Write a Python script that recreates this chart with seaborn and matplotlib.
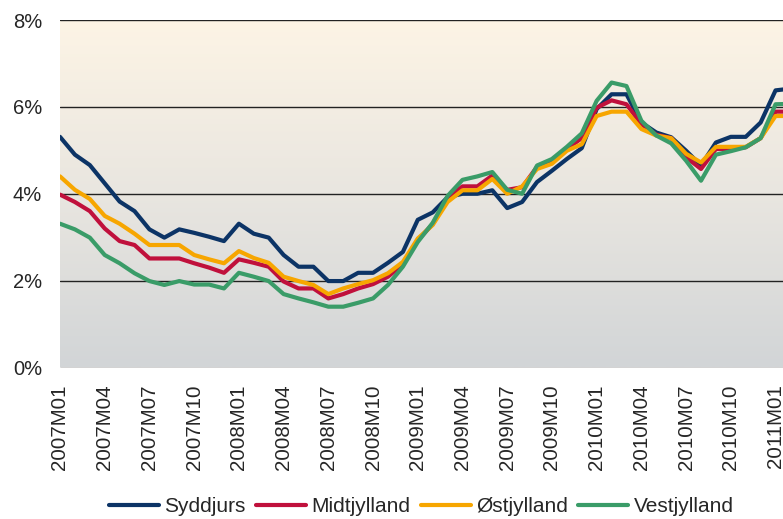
import numpy as np
import pandas as pd
import matplotlib
matplotlib.use("Agg")
import matplotlib.pyplot as plt
import seaborn as sns
from matplotlib.colors import LinearSegmentedColormap

regions = ["Syddjurs", "Midtjylland", "Østjylland", "Vestjylland"]

syddjurs = [5.31, 4.90, 4.66, 4.24, 3.82, 3.60, 3.18, 2.99, 3.18, 3.10, 3.01, 2.91,
            3.31, 3.08, 2.99, 2.59, 2.32, 2.32, 1.99, 1.99, 2.18, 2.18, 2.41, 2.66,
            3.40, 3.57, 3.92, 4.00, 4.00, 4.08, 3.67, 3.81, 4.27, 4.53, 4.80, 5.05,
            5.95, 6.29, 6.29, 5.64, 5.41, 5.30, 4.99, 4.65, 5.18, 5.31, 5.31, 5.64,
            6.38, 6.42]
midtjylland = [3.98, 3.81, 3.60, 3.20, 2.91, 2.82, 2.51, 2.51, 2.51, 2.40, 2.30, 2.18,
               2.49, 2.41, 2.32, 1.98, 1.82, 1.82, 1.59, 1.69, 1.82, 1.92, 2.09, 2.38,
               2.93, 3.30, 3.90, 4.17, 4.17, 4.42, 4.09, 4.15, 4.62, 4.76, 5.03, 5.28,
               5.98, 6.15, 6.06, 5.60, 5.36, 5.28, 4.84, 4.57, 5.03, 5.03, 5.07, 5.28,
               5.89, 5.89]
ostjylland = [4.40, 4.09, 3.88, 3.49, 3.31, 3.08, 2.82, 2.82, 2.82, 2.59, 2.49, 2.40,
              2.68, 2.52, 2.41, 2.09, 1.99, 1.90, 1.69, 1.82, 1.92, 2.01, 2.17, 2.43,
              2.97, 3.28, 3.81, 4.08, 4.08, 4.34, 4.00, 4.17, 4.57, 4.69, 4.99, 5.14,
              5.79, 5.89, 5.89, 5.49, 5.34, 5.28, 4.92, 4.72, 5.08, 5.08, 5.08, 5.28,
              5.79, 5.79]
vestjylland = [3.31, 3.18, 2.99, 2.59, 2.40, 2.17, 1.99, 1.90, 1.99, 1.91, 1.91, 1.82,
               2.18, 2.09, 1.99, 1.69, 1.59, 1.50, 1.40, 1.40, 1.49, 1.59, 1.90, 2.32,
               2.89, 3.33, 3.95, 4.32, 4.40, 4.50, 4.09, 4.00, 4.65, 4.80, 5.08, 5.39,
               6.14, 6.56, 6.48, 5.68, 5.34, 5.16, 4.76, 4.30, 4.90, 4.98, 5.07, 5.28,
               6.06, 6.07]

tick_labels = ["2007M01", "2007M04", "2007M07", "2007M10",
               "2008M01", "2008M04", "2008M07", "2008M10",
               "2009M01", "2009M04", "2009M07", "2009M10",
               "2010M01", "2010M04", "2010M07", "2010M10",
               "2011M01"]
y_ticks = [0, 2, 4, 6, 8]
y_labels = ["0%", "2%", "4%", "6%", "8%"]

colors = ["#0C3466", "#C0103C", "#F7A600", "#3A9C68"]

series = [syddjurs, midtjylland, ostjylland, vestjylland]
frames = []
for name, vals in zip(regions, series):
    frames.append(pd.DataFrame({"t": np.arange(len(vals)), "value": vals, "region": name}))
df = pd.concat(frames, ignore_index=True)

sns.set_style("white")
plt.rcParams["font.family"] = ["Liberation Sans", "DejaVu Sans"]

fig = plt.figure(figsize=(7.83, 5.19), dpi=100)
ax = fig.add_axes([60 / 783, 1 - 367.5 / 519, 1 - 60 / 783, 347.5 / 519])

# gradient background
cmap = LinearSegmentedColormap.from_list("bg", ["#D2D5D7", "#E9E6E0", "#FDF4E5"])
grad = np.linspace(0, 1, 256).reshape(-1, 1)
ax.imshow(grad, cmap=cmap, origin="lower", aspect="auto",
          extent=[-0.5, 60, 0, 8], zorder=0)

for yv in y_ticks:
    ax.axhline(yv, color="#222222", lw=1.0, zorder=1)

sns.lineplot(data=df, x="t", y="value", hue="region", hue_order=regions,
             palette=colors, lw=3.0, ax=ax, zorder=3, legend=True)

ax.set_xlim(0, 48.5)
ax.set_ylim(0, 8)
ax.set_xticks(np.arange(0, 49, 3))
ax.set_xticklabels(tick_labels, rotation=90, fontsize=14.8)
ax.set_yticks(y_ticks)
ax.set_yticklabels(y_labels, fontsize=14.5)
ax.tick_params(axis="both", length=0)
ax.tick_params(axis="x", pad=12)
ax.tick_params(axis="y", pad=13)
ax.set_xlabel("")
ax.set_ylabel("")
for s in ax.spines.values():
    s.set_visible(False)

handles, labels = ax.get_legend_handles_labels()
ax.legend(handles, labels, loc="center", bbox_to_anchor=(0.5, -0.401), ncol=4,
          frameon=False, fontsize=15,
          handlelength=2.4, handletextpad=0.25, columnspacing=0.5)

fig.savefig("out.png", dpi=100)
